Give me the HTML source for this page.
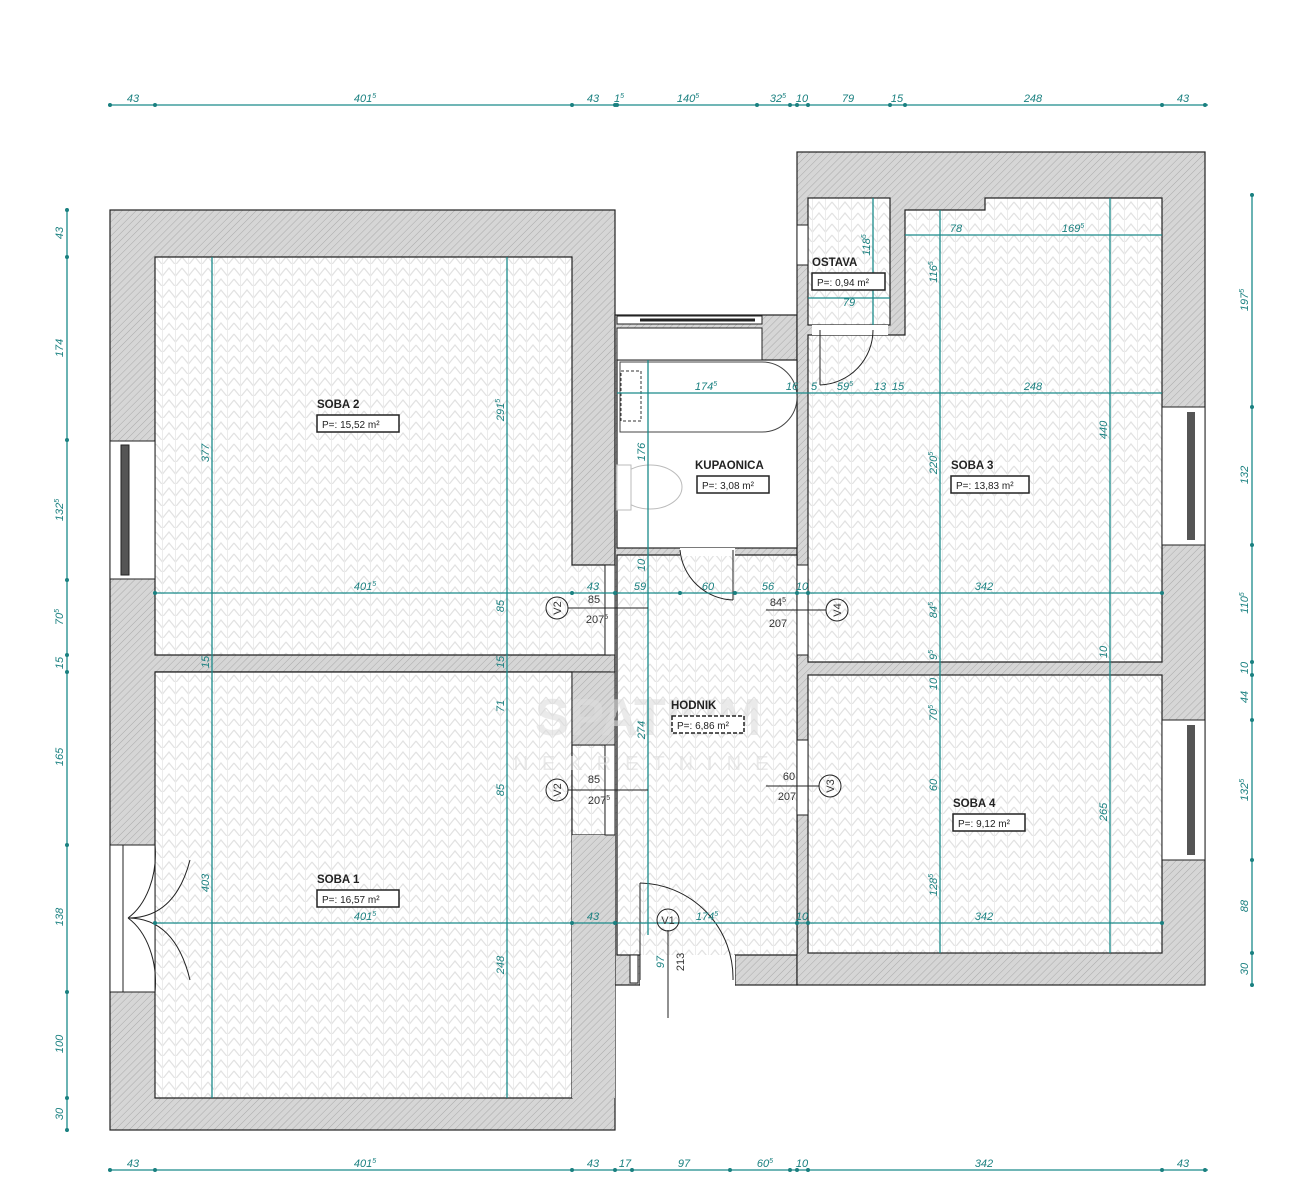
<!DOCTYPE html>
<html><head><meta charset="utf-8"><style>
html,body{margin:0;padding:0;background:#fff;}
svg{display:block;}
text{font-family:"Liberation Sans",sans-serif;}
.d{fill:#1a8080;font-size:11px;font-style:italic;}
.dl{stroke:#1a8a8a;stroke-width:1.3;fill:none;}
.w{stroke:#222;stroke-width:1.2;}
.rl{font-size:11.5px;font-weight:bold;fill:#222;}
.bx{font-size:10px;fill:#222;}
</style></head><body>
<svg width="1300" height="1200" viewBox="0 0 1300 1200" xmlns="http://www.w3.org/2000/svg">
<defs>
<pattern id="h" width="5" height="5" patternUnits="userSpaceOnUse" patternTransform="rotate(45)">
<rect width="5" height="5" fill="#d6d6d6"/><line x1="0" y1="0" x2="0" y2="5" stroke="#aaa" stroke-width="1"/></pattern>
<pattern id="hb" width="26" height="22" patternUnits="userSpaceOnUse">
<rect width="26" height="22" fill="#fff"/>
<polyline points="0,4 6.5,12 13,4 19.5,12 26,4" fill="none" stroke="#e2e2e2" stroke-width="1.2"/>
<polyline points="0,15 6.5,23 13,15 19.5,23 26,15" fill="none" stroke="#e2e2e2" stroke-width="1.2"/>
<line x1="6.5" y1="0" x2="6.5" y2="22" stroke="#ececec"/><line x1="19.5" y1="0" x2="19.5" y2="22" stroke="#ececec"/>
</pattern>
</defs>

<!-- walls -->
<g fill="url(#h)" class="w">
<rect x="110" y="210" width="505" height="920"/>
<rect x="615" y="315" width="182" height="670"/>
<rect x="797" y="152" width="408" height="833"/>
</g>
<!-- rooms -->
<g fill="url(#hb)" stroke="#222" stroke-width="1.2">
<path d="M155,257 H572 V565 H610 V655 H155 Z"/>
<path d="M155,672 H610 V745 H572 V672 M572,745 H610 V835 H572 Z"/>
<path d="M155,672 H572 V1098 H155 Z"/>
<rect x="572" y="745" width="38" height="90"/>
<path d="M617,555 H797 V955 H735 V985 H640 V955 H617 Z"/>
<rect x="808" y="198" width="82" height="127"/>
<path d="M905,210 H985 V198 H1162 V662 H808 V335 H905 Z"/>
<rect x="808" y="675" width="354" height="278"/>
</g>
<rect x="572" y="672" width="43" height="73" fill="url(#h)" stroke="#222"/>
<rect x="572" y="835" width="43" height="263" fill="url(#h)" stroke="#222" stroke-width="0"/>
<!-- bathroom -->
<rect x="617" y="360" width="180" height="188" fill="#fff" stroke="#222" stroke-width="1.2"/>
<rect x="617" y="328" width="145" height="32" fill="#fff" stroke="#222"/>
<rect x="617" y="316" width="145" height="8" fill="#fff" stroke="#222"/>
<line x1="640" y1="320" x2="755" y2="320" stroke="#222" stroke-width="3"/>
<path d="M620,362 H762 A35,35 0 0 1 762,432 H620 Z" fill="#fff" stroke="#444"/>
<rect x="621" y="371" width="20" height="50" fill="none" stroke="#333" stroke-dasharray="3,2"/>
<ellipse cx="650" cy="487" rx="32" ry="22" fill="#fff" stroke="#bbb"/>
<rect x="617" y="465" width="14" height="45" fill="#fff" stroke="#bbb"/>
<!-- bathroom door -->
<rect x="680" y="548" width="55" height="8" fill="#fff"/>
<path d="M680,550 A55,55 0 0 0 733,600" fill="none" stroke="#222"/>
<line x1="733" y1="550" x2="733" y2="600" stroke="#222"/>
<!-- entrance door -->
<rect x="640" y="955" width="95" height="32" fill="#fff"/>
<path d="M640,883 A95,95 0 0 1 733,980" fill="none" stroke="#222"/>
<line x1="640" y1="883" x2="640" y2="980" stroke="#222"/>
<rect x="630" y="955" width="8" height="28" fill="#fff" stroke="#222"/>
<line x1="668" y1="930" x2="668" y2="1018" stroke="#222"/>
<!-- interior door openings -->
<rect x="605" y="565" width="10" height="90" fill="#fff" stroke="#222"/>
<rect x="605" y="745" width="10" height="90" fill="#fff" stroke="#222"/>
<rect x="797" y="565" width="11" height="90" fill="#fff" stroke="#222"/>
<rect x="797" y="740" width="11" height="75" fill="#fff" stroke="#222"/>
<!-- ostava door -->
<rect x="812" y="325" width="76" height="10" fill="#fff"/>
<path d="M873,330 A55,55 0 0 1 820,385" fill="none" stroke="#222"/>
<line x1="820" y1="330" x2="820" y2="385" stroke="#222"/>
<rect x="797" y="225" width="11" height="40" fill="#fff" stroke="#222"/>
<!-- windows -->
<rect x="110" y="441" width="45" height="138" fill="#fff" stroke="#222"/>
<rect x="121" y="445" width="8" height="130" fill="#555" stroke="#222"/>
<rect x="1162" y="407" width="43" height="138" fill="#fff" stroke="#222"/>
<rect x="1187" y="412" width="8" height="128" fill="#555"/>
<rect x="1162" y="720" width="43" height="140" fill="#fff" stroke="#222"/>
<rect x="1187" y="725" width="8" height="130" fill="#555"/>
<!-- left double door -->
<rect x="110" y="845" width="45" height="147" fill="#fff" stroke="#222"/>
<line x1="123" y1="845" x2="123" y2="992" stroke="#222"/>
<path d="M155,845 A50,72 0 0 1 128,918" fill="none" stroke="#222"/>
<path d="M128,918 A50,72 0 0 1 155,992" fill="none" stroke="#222"/>
<path d="M155,845 H195 M155,992 H195" stroke="none"/>
<path d="M140,845 A52,72 0 0 1 192,845" fill="none" stroke="none"/>
<path d="M128,918 Q175,918 190,860" fill="none" stroke="#222"/>
<path d="M128,918 Q175,918 190,980" fill="none" stroke="#222"/>

<!-- watermark -->
<text x="648" y="735" font-size="52" fill="#ddd" opacity="0.6" text-anchor="middle" font-weight="bold">SPATIUM</text>
<text x="648" y="770" font-size="20" fill="#ddd" opacity="0.6" text-anchor="middle" letter-spacing="14">NEKRETNINE</text>

<!-- dimension lines -->
<g class="dl">
<line x1="108" y1="105" x2="1208" y2="105"/>
<line x1="108" y1="1170" x2="1208" y2="1170"/>
<line x1="67" y1="208" x2="67" y2="1132"/>
<line x1="1252" y1="193" x2="1252" y2="987"/>
<line x1="155" y1="593" x2="1162" y2="593"/>
<line x1="155" y1="923" x2="1162" y2="923"/>
<line x1="617" y1="393" x2="1162" y2="393"/>
<line x1="905" y1="235" x2="1162" y2="235"/>
<line x1="808" y1="298" x2="890" y2="298"/>
<line x1="212" y1="257" x2="212" y2="1098"/>
<line x1="507" y1="257" x2="507" y2="1098"/>
<line x1="648" y1="360" x2="648" y2="935"/>
<line x1="940" y1="210" x2="940" y2="953"/>
<line x1="1110" y1="198" x2="1110" y2="953"/>
<line x1="873" y1="198" x2="873" y2="325"/>
</g>
<g fill="#1a8080">
<g id="tt"></g>
<circle cx="110" cy="105" r="2"/><circle cx="155" cy="105" r="2"/><circle cx="572" cy="105" r="2"/><circle cx="615" cy="105" r="2"/><circle cx="617" cy="105" r="2"/><circle cx="757" cy="105" r="2"/><circle cx="790" cy="105" r="2"/><circle cx="797" cy="105" r="2"/><circle cx="808" cy="105" r="2"/><circle cx="890" cy="105" r="2"/><circle cx="905" cy="105" r="2"/><circle cx="1162" cy="105" r="2"/><circle cx="1205" cy="105" r="2"/>
<circle cx="110" cy="1170" r="2"/><circle cx="155" cy="1170" r="2"/><circle cx="572" cy="1170" r="2"/><circle cx="615" cy="1170" r="2"/><circle cx="632" cy="1170" r="2"/><circle cx="730" cy="1170" r="2"/><circle cx="790" cy="1170" r="2"/><circle cx="797" cy="1170" r="2"/><circle cx="808" cy="1170" r="2"/><circle cx="1162" cy="1170" r="2"/><circle cx="1205" cy="1170" r="2"/>
<circle cx="67" cy="210" r="2"/><circle cx="67" cy="257" r="2"/><circle cx="67" cy="440" r="2"/><circle cx="67" cy="580" r="2"/><circle cx="67" cy="655" r="2"/><circle cx="67" cy="672" r="2"/><circle cx="67" cy="845" r="2"/><circle cx="67" cy="992" r="2"/><circle cx="67" cy="1098" r="2"/><circle cx="67" cy="1130" r="2"/>
<circle cx="1252" cy="195" r="2"/><circle cx="1252" cy="407" r="2"/><circle cx="1252" cy="545" r="2"/><circle cx="1252" cy="662" r="2"/><circle cx="1252" cy="675" r="2"/><circle cx="1252" cy="720" r="2"/><circle cx="1252" cy="860" r="2"/><circle cx="1252" cy="953" r="2"/><circle cx="1252" cy="985" r="2"/>
<circle cx="155" cy="593" r="2"/><circle cx="572" cy="593" r="2"/><circle cx="615" cy="593" r="2"/><circle cx="680" cy="593" r="2"/><circle cx="735" cy="593" r="2"/><circle cx="797" cy="593" r="2"/><circle cx="808" cy="593" r="2"/><circle cx="1162" cy="593" r="2"/>
<circle cx="155" cy="923" r="2"/><circle cx="572" cy="923" r="2"/><circle cx="615" cy="923" r="2"/><circle cx="797" cy="923" r="2"/><circle cx="808" cy="923" r="2"/><circle cx="1162" cy="923" r="2"/>
</g>

<g class="d" text-anchor="middle">
<text x="133" y="102">43</text><text x="365" y="102">401<tspan font-size="7" dy="-4">5</tspan></text><text x="593" y="102">43</text><text x="619" y="102">1<tspan font-size="7" dy="-4">5</tspan></text><text x="688" y="102">140<tspan font-size="7" dy="-4">5</tspan></text><text x="778" y="102">32<tspan font-size="7" dy="-4">5</tspan></text><text x="802" y="102">10</text><text x="848" y="102">79</text><text x="897" y="102">15</text><text x="1033" y="102">248</text><text x="1183" y="102">43</text>
<text x="133" y="1167">43</text><text x="365" y="1167">401<tspan font-size="7" dy="-4">5</tspan></text><text x="593" y="1167">43</text><text x="625" y="1167">17</text><text x="684" y="1167">97</text><text x="765" y="1167">60<tspan font-size="7" dy="-4">5</tspan></text><text x="802" y="1167">10</text><text x="984" y="1167">342</text><text x="1183" y="1167">43</text>
<text x="365" y="590">401<tspan font-size="7" dy="-4">5</tspan></text><text x="593" y="590">43</text><text x="640" y="590">59</text><text x="708" y="590">60</text><text x="768" y="590">56</text><text x="802" y="590">10</text><text x="984" y="590">342</text>
<text x="365" y="920">401<tspan font-size="7" dy="-4">5</tspan></text><text x="593" y="920">43</text><text x="707" y="920">174<tspan font-size="7" dy="-4">5</tspan></text><text x="802" y="920">10</text><text x="984" y="920">342</text>
<text x="706" y="390">174<tspan font-size="7" dy="-4">5</tspan></text><text x="792" y="390">16</text><text x="814" y="390">5</text><text x="845" y="390">59<tspan font-size="7" dy="-4">5</tspan></text><text x="880" y="390">13</text><text x="898" y="390">15</text><text x="1033" y="390">248</text>
<text x="956" y="232">78</text><text x="1073" y="232">169<tspan font-size="7" dy="-4">5</tspan></text><text x="849" y="306">79</text>
</g>
<g class="d" text-anchor="middle">
<text transform="translate(63,233) rotate(-90)">43</text><text transform="translate(63,348) rotate(-90)">174</text><text transform="translate(63,510) rotate(-90)">132<tspan font-size="7" dy="-4">5</tspan></text><text transform="translate(63,617) rotate(-90)">70<tspan font-size="7" dy="-4">5</tspan></text><text transform="translate(63,663) rotate(-90)">15</text><text transform="translate(63,757) rotate(-90)">165</text><text transform="translate(63,917) rotate(-90)">138</text><text transform="translate(63,1044) rotate(-90)">100</text><text transform="translate(63,1114) rotate(-90)">30</text>
<text transform="translate(1248,300) rotate(-90)">197<tspan font-size="7" dy="-4">5</tspan></text><text transform="translate(1248,475) rotate(-90)">132</text><text transform="translate(1248,603) rotate(-90)">110<tspan font-size="7" dy="-4">5</tspan></text><text transform="translate(1248,668) rotate(-90)">10</text><text transform="translate(1248,697) rotate(-90)">44</text><text transform="translate(1248,790) rotate(-90)">132<tspan font-size="7" dy="-4">5</tspan></text><text transform="translate(1248,906) rotate(-90)">88</text><text transform="translate(1248,969) rotate(-90)">30</text>
<text transform="translate(209,453) rotate(-90)">377</text><text transform="translate(209,883) rotate(-90)">403</text><text transform="translate(209,662) rotate(-90)">15</text>
<text transform="translate(504,410) rotate(-90)">291<tspan font-size="7" dy="-4">5</tspan></text><text transform="translate(504,606) rotate(-90)">85</text><text transform="translate(504,662) rotate(-90)">15</text><text transform="translate(504,706) rotate(-90)">71</text><text transform="translate(504,790) rotate(-90)">85</text><text transform="translate(504,965) rotate(-90)">248</text>
<text transform="translate(645,452) rotate(-90)">176</text><text transform="translate(645,565) rotate(-90)">10</text><text transform="translate(645,730) rotate(-90)">274</text><text transform="translate(664,962) rotate(-90)">97</text>
<text transform="translate(937,272) rotate(-90)">116<tspan font-size="7" dy="-4">5</tspan></text><text transform="translate(937,463) rotate(-90)">220<tspan font-size="7" dy="-4">5</tspan></text><text transform="translate(937,610) rotate(-90)">84<tspan font-size="7" dy="-4">5</tspan></text><text transform="translate(937,655) rotate(-90)">9<tspan font-size="7" dy="-4">5</tspan></text><text transform="translate(937,684) rotate(-90)">10</text><text transform="translate(937,713) rotate(-90)">70<tspan font-size="7" dy="-4">5</tspan></text><text transform="translate(937,785) rotate(-90)">60</text><text transform="translate(937,885) rotate(-90)">128<tspan font-size="7" dy="-4">5</tspan></text>
<text transform="translate(1107,430) rotate(-90)">440</text><text transform="translate(1107,652) rotate(-90)">10</text><text transform="translate(1107,812) rotate(-90)">265</text>
<text transform="translate(870,245) rotate(-90)">118<tspan font-size="7" dy="-4">5</tspan></text>
</g>

<!-- door tags -->
<g font-size="11" fill="#333" text-anchor="middle">
<g fill="none" stroke="#222"><circle cx="557" cy="608" r="11"/><circle cx="837" cy="610" r="11"/><circle cx="557" cy="790" r="11"/><circle cx="830" cy="786" r="11"/><circle cx="668" cy="920" r="11"/>
<line x1="568" y1="608" x2="648" y2="608"/><line x1="766" y1="610" x2="826" y2="610"/><line x1="568" y1="790" x2="648" y2="790"/><line x1="766" y1="786" x2="819" y2="786"/></g>
<text transform="translate(561,608) rotate(-90)">V2</text><text transform="translate(841,610) rotate(-90)">V4</text><text transform="translate(561,790) rotate(-90)">V2</text><text transform="translate(834,786) rotate(-90)">V3</text><text x="668" y="924">V1</text>
<text x="594" y="603">85</text><text x="597" y="623">207<tspan font-size="7" dy="-4">5</tspan></text>
<text x="778" y="606">84<tspan font-size="7" dy="-4">5</tspan></text><text x="778" y="627">207</text>
<text x="594" y="783">85</text><text x="599" y="804">207<tspan font-size="7" dy="-4">5</tspan></text>
<text x="789" y="780">60</text><text x="787" y="800">207</text>
<text transform="translate(684,962) rotate(-90)">213</text>
</g>

<!-- room labels -->
<g>
<text x="317" y="408" class="rl">SOBA 2</text><rect x="317" y="415" width="82" height="17" fill="#fff" stroke="#222" stroke-width="1.5"/><text x="322" y="428" class="bx">P=: 15,52 m²</text>
<text x="317" y="883" class="rl">SOBA 1</text><rect x="317" y="890" width="82" height="17" fill="#fff" stroke="#222" stroke-width="1.5"/><text x="322" y="903" class="bx">P=: 16,57 m²</text>
<text x="695" y="469" class="rl">KUPAONICA</text><rect x="697" y="476" width="72" height="17" fill="#fff" stroke="#222" stroke-width="1.5"/><text x="702" y="489" class="bx">P=: 3,08 m²</text>
<text x="812" y="266" class="rl">OSTAVA</text><rect x="812" y="273" width="73" height="17" fill="#fff" stroke="#222" stroke-width="1.5"/><text x="817" y="286" class="bx">P=: 0,94 m²</text>
<text x="951" y="469" class="rl">SOBA 3</text><rect x="951" y="476" width="78" height="17" fill="#fff" stroke="#222" stroke-width="1.5"/><text x="956" y="489" class="bx">P=: 13,83 m²</text>
<text x="953" y="807" class="rl">SOBA 4</text><rect x="953" y="814" width="72" height="17" fill="#fff" stroke="#222" stroke-width="1.5"/><text x="958" y="827" class="bx">P=: 9,12 m²</text>
<text x="671" y="709" class="rl">HODNIK</text><rect x="672" y="716" width="72" height="17" fill="#fff" stroke="#222" stroke-width="1.5" stroke-dasharray="4,2"/><text x="677" y="729" class="bx">P=: 6,86 m²</text>
</g>
</svg>
</body></html>
